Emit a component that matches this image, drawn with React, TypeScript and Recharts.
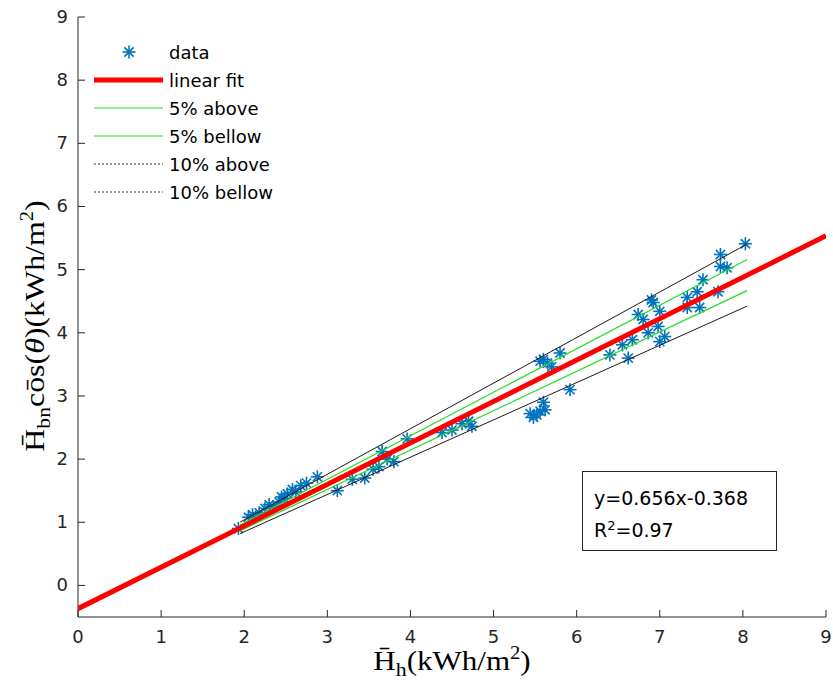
import { Scatter, ScatterChart, XAxis, YAxis } from 'recharts'

const xTicks = [0, 1, 2, 3, 4, 5, 6, 7, 8, 9]
const yTicks = [0, 1, 2, 3, 4, 5, 6, 7, 8, 9]

// measured points: horizontal irradiation vs. beam-normal * cos(theta)
const hX = [
  1.93, 2.05, 2.1, 2.18, 2.25, 2.3, 2.35, 2.42, 2.45, 2.48, 2.52, 2.58, 2.62, 2.68, 2.75, 2.88,
  3.12, 3.3, 3.45, 3.55, 3.62, 3.66, 3.72, 3.8, 3.96,
  4.38, 4.5, 4.62, 4.7, 4.74,
  5.44, 5.48, 5.52, 5.56, 5.6, 5.62, 5.56, 5.6, 5.65, 5.7, 5.8, 5.92,
  6.4, 6.55, 6.62, 6.67, 6.74, 6.8, 6.86, 6.9, 6.92, 6.98, 7.0, 7.0, 7.06,
  7.33, 7.33, 7.45, 7.48, 7.52, 7.7, 7.73, 7.73, 7.81, 8.03,
]
const hbnY = [
  0.9, 1.08, 1.12, 1.15, 1.22, 1.28, 1.25, 1.32, 1.4, 1.38, 1.45, 1.52, 1.48, 1.58, 1.62, 1.72,
  1.5, 1.68, 1.7, 1.84, 1.88, 2.12, 2.0, 1.96, 2.32,
  2.42, 2.46, 2.56, 2.6, 2.52,
  2.72, 2.66, 2.7, 2.76, 2.9, 2.78, 3.55, 3.58, 3.52, 3.46, 3.68, 3.1,
  3.65, 3.81, 3.6, 3.89, 4.29, 4.21, 4.0, 4.52, 4.48, 4.1, 4.34, 3.86, 3.94,
  4.56, 4.4, 4.65, 4.4, 4.84, 4.65, 5.24, 5.05, 5.03, 5.41,
]

// fitted line y = 0.656x - 0.368 and its +-5% / +-10% bands (end points)
const fitX = [0, 9]
const fitY = [-0.368, 5.536]
const bandX = [1.95, 8.05]
const above5 = [0.957, 5.159]
const below5 = [0.865, 4.667]
const above10 = [1.002, 5.404]
const below10 = [0.82, 4.422]

const points = hX.map((x, i) => ({ x, y: hbnY[i] }))
const toLine = (xs: number[], ys: number[]) => xs.map((x, i) => ({ x, y: ys[i] }))

const AXIS = '#262626'
const SANS = '"DejaVu Sans", sans-serif'
const SERIF = '"Liberation Serif", serif'

function Star(props: any) {
  const { cx, cy } = props
  const r = 6.5
  const d = r * 0.707
  return (
    <g stroke="#0072BD" strokeWidth={1.6}>
      <line x1={cx - r} y1={cy} x2={cx + r} y2={cy} />
      <line x1={cx} y1={cy - r} x2={cx} y2={cy + r} />
      <line x1={cx - d} y1={cy - d} x2={cx + d} y2={cy + d} />
      <line x1={cx - d} y1={cy + d} x2={cx + d} y2={cy - d} />
    </g>
  )
}

const NoDot = () => <g />

function BottomTick({ x, y, payload }: any) {
  return (
    <g>
      <line x1={x} y1={y} x2={x} y2={y - 7} stroke={AXIS} />
      <text x={x} y={y + 26} textAnchor="middle" fontSize={18} fontFamily={SANS} fill={AXIS}>
        {payload.value}
      </text>
    </g>
  )
}

function LeftTick({ x, y, payload }: any) {
  return (
    <g>
      <line x1={x} y1={y} x2={x + 7} y2={y} stroke={AXIS} />
      <text x={x - 10} y={y + 6} textAnchor="end" fontSize={18} fontFamily={SANS} fill={AXIS}>
        {payload.value}
      </text>
    </g>
  )
}

const TopTick = ({ x, y }: any) => <line x1={x} y1={y} x2={x} y2={y + 7} stroke={AXIS} />
const RightTick = ({ x, y }: any) => <line x1={x} y1={y} x2={x - 7} y2={y} stroke={AXIS} />

function XLabel({ viewBox }: any) {
  const cx = viewBox.x + viewBox.width / 2
  return (
    <text transform={`translate(${cx},${viewBox.y + 53}) scale(1.15,1)`} textAnchor="middle" fontSize={27} fontFamily={SERIF} fill="#000">
      <tspan>{'H\u0304'}</tspan>
      <tspan fontSize={19} dy={6}>h</tspan>
      <tspan dy={-6}>(kWh/m</tspan>
      <tspan fontSize={18} dy={-11}>2</tspan>
      <tspan dy={11}>)</tspan>
    </text>
  )
}

function YLabel({ viewBox }: any) {
  return (
    <text transform={`translate(${viewBox.x + 44},326) rotate(-90) scale(1.14,1)`} textAnchor="middle" fontSize={28} fontFamily={SERIF} fill="#000">
      <tspan>{'H\u0304'}</tspan>
      <tspan fontSize={19} dy={6}>bn</tspan>
      <tspan dy={-6}>{'c\u014Ds('}</tspan>
      <tspan fontStyle="italic">θ</tspan>
      <tspan>)(kWh/m</tspan>
      <tspan fontSize={18} dy={-11}>2</tspan>
      <tspan dy={11}>)</tspan>
    </text>
  )
}

const legendItems = [
  { key: 'data', label: 'data' },
  { key: 'fit', label: 'linear fit' },
  { key: 'a5', label: '5% above' },
  { key: 'b5', label: '5% bellow' },
  { key: 'a10', label: '10% above' },
  { key: 'b10', label: '10% bellow' },
]

function LegendIcon({ k }: { k: string }) {
  if (k === 'data') return <Star cx={35} cy={14} />
  if (k === 'fit') return <line x1={0} y1={14} x2={69} y2={14} stroke="#ff0000" strokeWidth={5} />
  if (k === 'a5' || k === 'b5') return <line x1={0} y1={14} x2={69} y2={14} stroke="#22dd22" strokeWidth={1.2} />
  return <line x1={0} y1={14} x2={69} y2={14} stroke="#333" strokeWidth={1} strokeDasharray="2 2" />
}

export default function App() {
  return (
    <div style={{ position: 'absolute', left: 0, top: 0, width: 833, height: 683, background: '#fff' }}>
      <ScatterChart width={833} height={683} margin={{ top: 17, right: 7, bottom: 0, left: 0 }}>
        <XAxis
          type="number"
          dataKey="x"
          domain={[0, 9]}
          ticks={xTicks}
          allowDataOverflow
          height={66}
          tickSize={0}
          tickMargin={0}
          tick={<BottomTick />}
          axisLine={{ stroke: AXIS }}
          label={(p: any) => <XLabel {...p} />}
        />
        <XAxis
          xAxisId="top"
          orientation="top"
          type="number"
          domain={[0, 9]}
          ticks={xTicks}
          height={0}
          tickSize={0}
          tickMargin={0}
          tick={<TopTick />}
          axisLine={{ stroke: AXIS }}
        />
        <YAxis
          type="number"
          dataKey="y"
          domain={[-0.5, 9]}
          ticks={yTicks}
          allowDataOverflow
          width={78}
          tickSize={0}
          tickMargin={0}
          tick={<LeftTick />}
          axisLine={{ stroke: AXIS }}
          label={(p: any) => <YLabel {...p} />}
        />
        <YAxis
          yAxisId="right"
          orientation="right"
          type="number"
          domain={[-0.5, 9]}
          ticks={yTicks}
          width={0}
          tickSize={0}
          tickMargin={0}
          tick={<RightTick />}
          axisLine={{ stroke: AXIS }}
        />
        <Scatter data={points} shape={<Star />} isAnimationActive={false} />
        <Scatter data={toLine(bandX, above10)} line={{ stroke: '#1a1a1a', strokeWidth: 1 }} shape={<NoDot />} isAnimationActive={false} />
        <Scatter data={toLine(bandX, below10)} line={{ stroke: '#1a1a1a', strokeWidth: 1 }} shape={<NoDot />} isAnimationActive={false} />
        <Scatter data={toLine(bandX, above5)} line={{ stroke: '#22dd22', strokeWidth: 1.2 }} shape={<NoDot />} isAnimationActive={false} />
        <Scatter data={toLine(bandX, below5)} line={{ stroke: '#22dd22', strokeWidth: 1.2 }} shape={<NoDot />} isAnimationActive={false} />
        <Scatter data={toLine(fitX, fitY)} line={{ stroke: '#ff0000', strokeWidth: 5 }} shape={<NoDot />} isAnimationActive={false} />
      </ScatterChart>

      <div style={{ position: 'absolute', left: 94, top: 38 }}>
        {legendItems.map((it) => (
          <div key={it.key} style={{ display: 'flex', alignItems: 'center', height: 28 }}>
            <svg width={70} height={28}>
              <LegendIcon k={it.key} />
            </svg>
            <span style={{ marginLeft: 5, fontFamily: SANS, fontSize: 18, color: '#000' }}>{it.label}</span>
          </div>
        ))}
      </div>

      <div
        style={{
          position: 'absolute',
          left: 582,
          top: 471,
          width: 195,
          height: 80,
          border: '1px solid #262626',
          boxSizing: 'border-box',
          background: '#fff',
          fontFamily: SANS,
          fontSize: 19,
          color: '#000',
          padding: '10px 0 0 11px',
          lineHeight: '32px',
        }}
      >
        <div>y=0.656x-0.368</div>
        <div>
          R<sup style={{ fontSize: 13, lineHeight: 0 }}>2</sup>=0.97
        </div>
      </div>
    </div>
  )
}
